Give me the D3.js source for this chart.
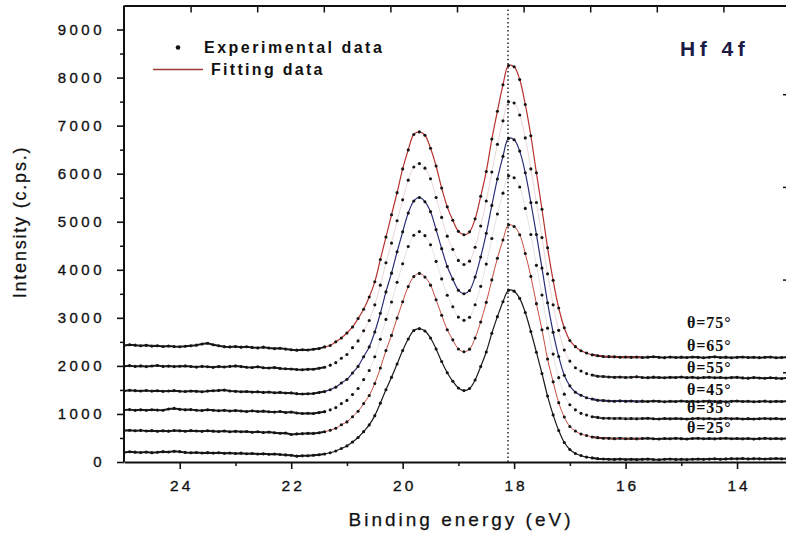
<!DOCTYPE html>
<html>
<head>
<meta charset="utf-8">
<script src="https://cdn.jsdelivr.net/npm/d3@7"></script>
<style>
  html, body { margin: 0; padding: 0; background: #fff; }
  svg { display: block; }
  text { font-family: "Liberation Sans", Arial, sans-serif; fill: #111; }
</style>
</head>
<body>
<svg id="chart" width="786" height="534"></svg>
<script>
// Binding-energy grid (eV), 0.1 eV step
const energies = [
  25.0, 24.9, 24.8, 24.7, 24.6, 24.5, 24.4, 24.3, 24.2, 24.1,
  24.0, 23.9, 23.8, 23.7, 23.6, 23.5, 23.4, 23.3, 23.2, 23.1,
  23.0, 22.9, 22.8, 22.7, 22.6, 22.5, 22.4, 22.3, 22.2, 22.1,
  22.0, 21.9, 21.8, 21.7, 21.6, 21.5, 21.4, 21.3, 21.2, 21.1,
  21.0, 20.9, 20.8, 20.7, 20.6, 20.5, 20.4, 20.3, 20.2, 20.1,
  20.0, 19.9, 19.8, 19.7, 19.6, 19.5, 19.4, 19.3, 19.2, 19.1,
  19.0, 18.9, 18.8, 18.7, 18.6, 18.5, 18.4, 18.3, 18.2, 18.1,
  18.0, 17.9, 17.8, 17.7, 17.6, 17.5, 17.4, 17.3, 17.2, 17.1,
  17.0, 16.9, 16.8, 16.7, 16.6, 16.5, 16.4, 16.3, 16.2, 16.1,
  16.0, 15.9, 15.8, 15.7, 15.6, 15.5, 15.4, 15.3, 15.2, 15.1,
  15.0, 14.9, 14.8, 14.7, 14.6, 14.5, 14.4, 14.3, 14.2, 14.1,
  14.0, 13.9, 13.8, 13.7, 13.6, 13.5, 13.4, 13.3, 13.2, 13.1
];

// Hf 4f intensities (c.p.s.) for each take-off angle
const counts75 = [
  2425, 2440, 2432, 2418, 2428, 2412, 2420, 2405, 2415, 2402,
  2398, 2410, 2420, 2432, 2455, 2470, 2440, 2418, 2400, 2395,
  2402, 2390, 2398, 2385, 2375, 2390, 2372, 2360, 2368, 2350,
  2335, 2328, 2335, 2332, 2345, 2360, 2395, 2425, 2500, 2580,
  2685, 2810, 2985, 3180, 3435, 3750, 4215, 4680, 5145, 5605,
  6100, 6495, 6815, 6870, 6800, 6530, 6160, 5700, 5310, 5030,
  4800, 4730, 4790, 5060, 5530, 6045, 6720, 7300, 7850, 8250,
  8225, 7960, 7440, 6790, 6020, 5260, 4460, 3780, 3205, 2795,
  2530, 2400, 2315, 2268, 2230, 2212, 2196, 2192, 2188, 2180,
  2186, 2178, 2184, 2176, 2182, 2190, 2178, 2172, 2185, 2176,
  2182, 2174, 2186, 2178, 2170, 2180, 2188, 2175, 2182, 2170,
  2178, 2185, 2174, 2180, 2172, 2178, 2185, 2170, 2176, 2182
];
const counts65 = [
  1995, 2005, 1990, 2000, 1985, 1998, 2008, 1990, 1996, 1985,
  1992, 2000, 1988, 1975, 1990, 1982, 1970, 1985, 1978, 1990,
  2000, 1985, 1972, 1968, 1980, 1960, 1955, 1965, 1948, 1940,
  1935, 1925, 1920, 1928, 1930, 1950, 1972, 2015, 2068, 2160,
  2238, 2380, 2520, 2730, 2945, 3270, 3680, 4145, 4555, 5020,
  5455, 5865, 6140, 6210, 6115, 5895, 5505, 5090, 4700, 4425,
  4195, 4110, 4180, 4470, 4910, 5430, 6035, 6610, 7100, 7495,
  7470, 7220, 6745, 6100, 5400, 4670, 3915, 3270, 2740, 2330,
  2100, 1960, 1895, 1840, 1812, 1785, 1778, 1770, 1762, 1768,
  1758, 1765, 1772, 1760, 1755, 1766, 1760, 1752, 1762, 1758,
  1768, 1755, 1762, 1750, 1758, 1765, 1752, 1760, 1748, 1756,
  1762, 1750, 1745, 1756, 1748, 1742, 1752, 1745, 1738, 1748
];
const counts55 = [
  1480, 1492, 1485, 1478, 1488, 1475, 1482, 1470, 1478, 1485,
  1472, 1466, 1478, 1470, 1462, 1475, 1482, 1490, 1496, 1478,
  1470, 1462, 1468, 1455, 1460, 1448, 1455, 1442, 1448, 1435,
  1438, 1422, 1415, 1420, 1425, 1445, 1465, 1505, 1558, 1645,
  1720, 1852, 1990, 2190, 2395, 2705, 3095, 3540, 3930, 4375,
  4790, 5180, 5430, 5505, 5415, 5210, 4835, 4440, 4070, 3805,
  3575, 3500, 3570, 3850, 4265, 4760, 5340, 5890, 6360, 6735,
  6705, 6470, 6020, 5400, 4735, 4035, 3315, 2700, 2195, 1805,
  1585, 1450, 1388, 1338, 1310, 1285, 1278, 1270, 1264, 1272,
  1262, 1268, 1258, 1266, 1260, 1270, 1262, 1255, 1265, 1260,
  1268, 1258, 1264, 1256, 1262, 1268, 1258, 1264, 1255, 1262,
  1268, 1258, 1264, 1255, 1260, 1266, 1256, 1262, 1258, 1264
];
const counts45 = [
  1080, 1090, 1075, 1085, 1078, 1088, 1080, 1078, 1102, 1115,
  1096, 1085, 1090, 1078, 1072, 1085, 1078, 1068, 1075, 1062,
  1070, 1060, 1052, 1064, 1050, 1058, 1045, 1038, 1050, 1030,
  1042, 1020, 1008, 1015, 1010, 1028, 1048, 1085, 1132, 1215,
  1282, 1405, 1530, 1715, 1905, 2190, 2555, 2968, 3330, 3740,
  4125, 4485, 4720, 4795, 4710, 4520, 4175, 3810, 3470, 3230,
  3015, 2948, 3010, 3272, 3655, 4118, 4650, 5162, 5595, 5955,
  5915, 5722, 5278, 4735, 4092, 3475, 2785, 2245, 1755, 1412,
  1192, 1085, 1012, 978, 942, 928, 912, 910, 904, 912,
  900, 906, 898, 904, 910, 900, 895, 905, 898, 906,
  900, 894, 902, 908, 898, 904, 896, 902, 910, 898,
  904, 896, 902, 894, 900, 906, 898, 903, 895, 900
];
const counts35 = [
  655, 662, 650, 658, 645, 652, 640, 648, 642, 655,
  648, 640, 652, 645, 638, 650, 642, 635, 645, 630,
  638, 628, 635, 620, 628, 615, 622, 610, 598, 605,
  572, 585, 590, 596, 595, 610, 628, 660, 702, 775,
  835, 942, 1055, 1215, 1385, 1635, 1955, 2318, 2635, 2995,
  3335, 3650, 3858, 3925, 3848, 3680, 3375, 3055, 2752, 2542,
  2352, 2295, 2348, 2580, 2915, 3322, 3790, 4240, 4620, 4935,
  4900, 4730, 4338, 3862, 3295, 2752, 2142, 1668, 1235, 935,
  740, 645, 582, 552, 520, 507, 494, 492, 486, 494,
  484, 490, 482, 488, 495, 485, 480, 490, 484, 492,
  486, 478, 488, 494, 484, 490, 482, 488, 494, 484,
  490, 482, 488, 480, 486, 492, 484, 490, 482, 488
];
const counts25 = [
  200, 212, 205, 198, 206, 195, 202, 215, 208, 222,
  215, 200, 192, 198, 188, 195, 185, 192, 180, 186,
  178, 184, 172, 178, 165, 170, 160, 166, 155, 148,
  140, 122, 128, 130, 140, 152, 166, 192, 230, 282,
  335, 415, 510, 632, 772, 965, 1225, 1505, 1762, 2040,
  2318, 2560, 2735, 2775, 2725, 2580, 2352, 2090, 1858, 1680,
  1540, 1486, 1530, 1708, 1985, 2290, 2680, 3025, 3335, 3575,
  3555, 3405, 3110, 2715, 2285, 1840, 1372, 980, 655, 405,
  260, 176, 134, 102, 85, 70, 62, 58, 54, 60,
  52, 56, 50, 55, 60, 52, 48, 56, 62, 54,
  58, 50, 56, 62, 55, 60, 66, 58, 64, 70,
  66, 72, 64, 70, 66, 62, 68, 74, 66, 70
];

const seriesNames = ["\u03B8=75\u00B0", "\u03B8=65\u00B0", "\u03B8=55\u00B0", "\u03B8=45\u00B0", "\u03B8=35\u00B0", "\u03B8=25\u00B0"];
const seriesCounts = [counts75, counts65, counts55, counts45, counts35, counts25];
// intensity level (c.p.s.) at which each angle label sits
const labelLevels = [2783, 2304, 1846, 1388, 1014, 597];
const labelEnergy = 14.9;

const yTicks = [0, 1000, 2000, 3000, 4000, 5000, 6000, 7000, 8000, 9000];
const yMinorTicks = [500, 1500, 2500, 3500, 4500, 5500, 6500, 7500, 8500];
const xTicks = [24, 22, 20, 18, 16, 14];
const xMinorTicks = [23, 21, 19, 17, 15];
const peakEnergy = 18.11;   // Hf 4f7/2 reference position

// styling per series: fit line colour / width / opacity
const fitStyles = [
  { color: "#b8312f", width: 1.2, opacity: 1 },
  { color: "#c99a9a", width: 0.8, opacity: 0.5 },
  { color: "#2c2f78", width: 1.2, opacity: 1 },
  { color: "#c4c4c4", width: 0.8, opacity: 0.6 },
  { color: "#c0392b", width: 1.0, opacity: 0.9 },
  { color: "#1a1a1a", width: 1.2, opacity: 1 }
];

const plot = { left: 124, right: 790, top: 5.5, bottom: 462 };
const svg = d3.select("#chart");

const x = d3.scaleLinear().domain([25, 13.05]).range([plot.left, plot.right]);
const y = d3.scaleLinear().domain([0, 9500]).range([plot.bottom, plot.top]);

svg.append("defs").append("clipPath").attr("id", "plotClip")
  .append("rect")
  .attr("x", plot.left).attr("y", plot.top)
  .attr("width", plot.right - plot.left).attr("height", plot.bottom - plot.top);

const spectra = seriesCounts.map((vals, i) => ({
  name: seriesNames[i],
  style: fitStyles[i],
  points: energies.map((e, j) => ({ e: e, c: vals[j] }))
}));

const dataLayer = svg.append("g").attr("clip-path", "url(#plotClip)");

// vertical dotted marker at the 4f7/2 position
dataLayer.append("line")
  .attr("x1", x(peakEnergy)).attr("x2", x(peakEnergy))
  .attr("y1", plot.top).attr("y2", plot.bottom)
  .attr("stroke", "#222").attr("stroke-width", 1.5)
  .attr("stroke-dasharray", "1.5,2.6");

// densely sampled flat regions read as a continuous trace
const trace = d3.line()
  .defined(d => d.e >= 21.35 || d.e <= 16.65)
  .x(d => x(d.e)).y(d => y(d.c));

dataLayer.selectAll("path.trace").data(spectra).join("path")
  .attr("class", "trace")
  .attr("d", d => trace(d.points))
  .attr("fill", "none").attr("stroke", "#1b1b1b")
  .attr("stroke-width", 2).attr("stroke-linejoin", "round");

// fitted envelopes over the peak window
const fit = d3.line()
  .defined(d => d.e <= 21.45 && d.e >= 15.7)
  .curve(d3.curveCatmullRom)
  .x(d => x(d.e)).y(d => y(d.c));

dataLayer.selectAll("path.fit").data(spectra).join("path")
  .attr("class", "fit")
  .attr("d", d => fit(d.points))
  .attr("fill", "none")
  .attr("stroke", d => d.style.color)
  .attr("stroke-width", d => d.style.width)
  .attr("stroke-opacity", d => d.style.opacity);

// experimental points
spectra.forEach(s => {
  dataLayer.append("g").selectAll("circle").data(s.points).join("circle")
    .attr("cx", d => x(d.e)).attr("cy", d => y(d.c))
    .attr("r", 1.55).attr("fill", "#141414");
});

// ---------- axes ----------
function styleAxis(g, fontSize, spacing) {
  g.select(".domain").attr("stroke", "#111").attr("stroke-width", 2);
  g.selectAll(".tick line").attr("stroke", "#111").attr("stroke-width", 1.6);
  g.selectAll(".tick text")
    .attr("fill", "#151515")
    .attr("stroke", "#151515").attr("stroke-width", 0.35)
    .style("font-family", "'Liberation Sans', Arial, sans-serif")
    .style("font-size", fontSize + "px")
    .style("letter-spacing", spacing + "px");
}

const gx = svg.append("g").attr("transform", `translate(0,${plot.bottom})`)
  .call(d3.axisBottom(x).tickValues(xTicks).tickSize(7).tickSizeOuter(0)
    .tickPadding(11).tickFormat(d3.format("d")));
styleAxis(gx, 15.5, 3);
gx.selectAll(".tick text").attr("dx", "1.5");

const gxMinor = svg.append("g").attr("transform", `translate(0,${plot.bottom})`)
  .call(d3.axisBottom(x).tickValues(xMinorTicks).tickSize(4).tickFormat(""));
gxMinor.select(".domain").remove();
gxMinor.selectAll(".tick line").attr("stroke", "#111").attr("stroke-width", 1.5);

const gy = svg.append("g").attr("transform", `translate(${plot.left},0)`)
  .call(d3.axisLeft(y).tickValues(yTicks).tickSize(7).tickSizeOuter(0)
    .tickPadding(12).tickFormat(d3.format("d")));
styleAxis(gy, 15, 3.5);
gy.select(".domain").attr("d", `M0,${plot.bottom}V${plot.top}`);

const gyMinor = svg.append("g").attr("transform", `translate(${plot.left},0)`)
  .call(d3.axisLeft(y).tickValues(yMinorTicks).tickSize(4).tickFormat(""));
gyMinor.select(".domain").remove();
gyMinor.selectAll(".tick line").attr("stroke", "#111").attr("stroke-width", 1.5);

// top frame with inward ticks
const xTop = d3.scaleLinear().domain([0, 10]).range([plot.left, plot.right]);
const gTop = svg.append("g").attr("transform", `translate(0,${plot.top})`)
  .call(d3.axisTop(xTop).tickValues(d3.range(1, 10)).tickSize(-7).tickSizeOuter(0).tickFormat(""));
gTop.select(".domain").attr("stroke", "#111").attr("stroke-width", 2);
gTop.selectAll(".tick line").attr("stroke", "#111").attr("stroke-width", 1.5);

// right frame with inward ticks
const yRight = d3.scaleLinear().domain([0, 5]).range([465, 1.5]);
const gRight = svg.append("g").attr("transform", `translate(${plot.right},0)`)
  .call(d3.axisRight(yRight).tickValues([1, 2, 3, 4]).tickSize(-7).tickSizeOuter(0).tickFormat(""));
gRight.select(".domain").attr("stroke", "#111").attr("stroke-width", 2);
gRight.selectAll(".tick line").attr("stroke", "#111").attr("stroke-width", 1.5);
const gRightMinor = svg.append("g").attr("transform", `translate(${plot.right},0)`)
  .call(d3.axisRight(yRight).tickValues([0.5, 1.5, 2.5, 3.5]).tickSize(-3).tickFormat(""));
gRightMinor.select(".domain").remove();
gRightMinor.selectAll(".tick line").attr("stroke", "#777").attr("stroke-width", 1.2);

// axis titles
svg.append("text")
  .attr("x", 461).attr("y", 526)
  .attr("text-anchor", "middle")
  .attr("stroke", "#111").attr("stroke-width", 0.25)
  .style("font-size", "19px").style("letter-spacing", "3px")
  .text("Binding energy (eV)");

svg.append("text")
  .attr("transform", "translate(26,222) rotate(-90)")
  .attr("text-anchor", "middle")
  .attr("stroke", "#111").attr("stroke-width", 0.25)
  .style("font-size", "18px").style("letter-spacing", "1.8px")
  .text("Intensity (c.ps.)");

// legend
const legend = svg.append("g");
legend.append("circle").attr("cx", 178).attr("cy", 47.5).attr("r", 2.3).attr("fill", "#111");
legend.append("text").attr("x", 204).attr("y", 53)
  .style("font-size", "16px").style("font-weight", "bold").style("letter-spacing", "2.5px")
  .text("Experimental data");
legend.append("line").attr("x1", 153).attr("x2", 203).attr("y1", 69.5).attr("y2", 69.5)
  .attr("stroke", "#9b3b35").attr("stroke-width", 1.4);
legend.append("text").attr("x", 211).attr("y", 75)
  .style("font-size", "16px").style("font-weight", "bold").style("letter-spacing", "2.3px")
  .text("Fitting data");

// core-level tag
svg.append("text").attr("x", 680).attr("y", 56)
  .style("font-size", "21px").style("font-weight", "bold").style("letter-spacing", "4.5px")
  .style("fill", "#1b1b45")
  .text("Hf 4f");

// angle labels
svg.selectAll("text.angle").data(seriesNames).join("text")
  .attr("class", "angle")
  .attr("x", x(labelEnergy))
  .attr("y", (d, i) => y(labelLevels[i]))
  .style("font-family", "'Liberation Serif', 'Times New Roman', serif")
  .style("font-size", "16px").style("font-weight", "bold").style("letter-spacing", "1px")
  .text(d => d);
</script>
</body>
</html>
